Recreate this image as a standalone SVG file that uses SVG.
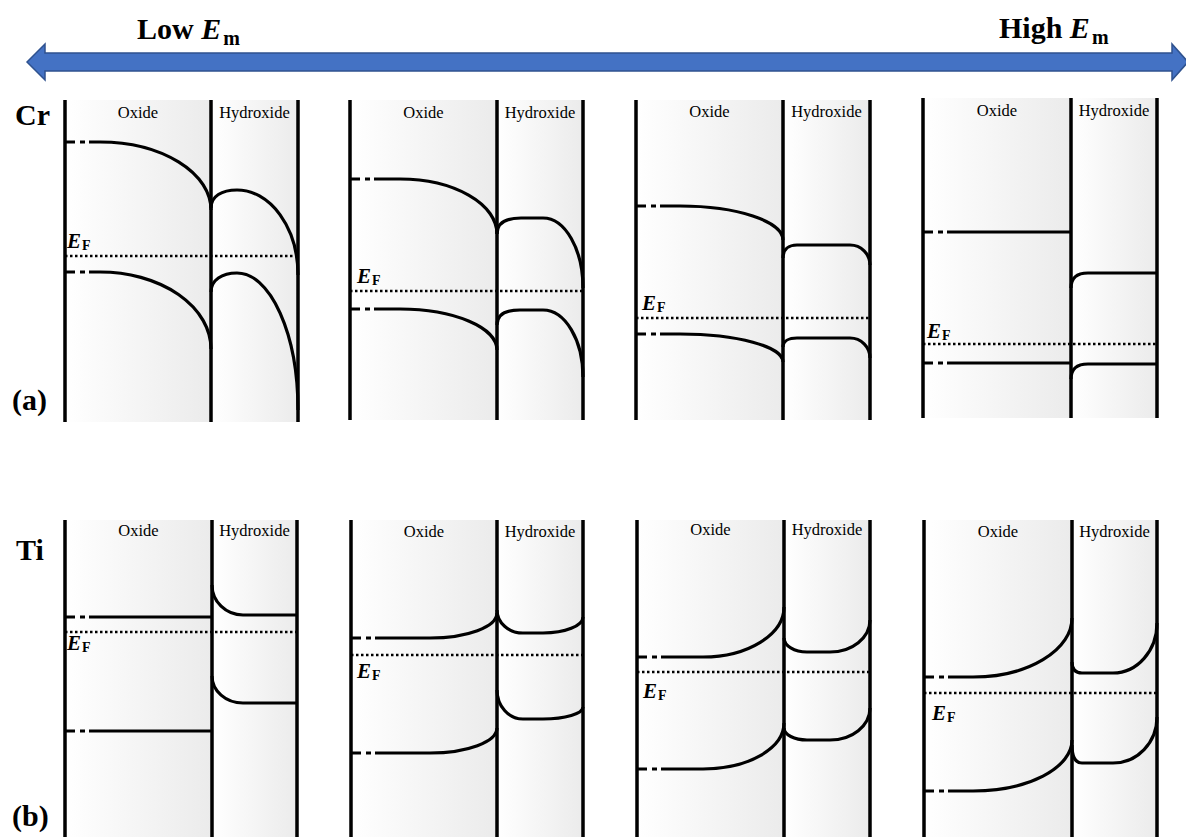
<svg xmlns="http://www.w3.org/2000/svg" width="1186" height="837" viewBox="0 0 1186 837">
<style>
.wall{stroke:#000;stroke-width:3.5;fill:none}
.band{stroke:#000;stroke-width:3.2;fill:none}
.bandd{stroke:#000;stroke-width:3.2;fill:none;stroke-dasharray:10 5 5 4 3000}
.ef{stroke:#000;stroke-width:2.5;fill:none;stroke-dasharray:2.5 2.5}
.lay{font-family:"Liberation Serif","Times New Roman",serif;font-size:16.5px;fill:#000;text-anchor:middle}
.big{font-family:"Liberation Serif","Times New Roman",serif;font-size:30px;font-weight:bold;fill:#000}
.efl{font-family:"Liberation Serif","Times New Roman",serif;font-size:21px;font-weight:bold;font-style:italic;fill:#000}
.sub{font-style:normal;font-size:14px}
</style>
<defs>
<linearGradient id="shade" x1="0" y1="0" x2="1" y2="0">
<stop offset="0" stop-color="#FFFFFF"/>
<stop offset="1" stop-color="#EBEBEB"/>
</linearGradient>
</defs>
<rect width="1186" height="837" fill="#FFFFFF"/>

<g id="connectors">
<polygon points="27,62 45,44 45,53 1172,53 1172,44 1188,62 1172,80 1172,71 45,71 45,80" fill="#4472C4" stroke="#2F528F" stroke-width="1.5"/>
</g>

<g id="labels">
<text class="big" x="137" y="39">Low <tspan font-style="italic">E</tspan><tspan font-size="20" dx="2" dy="6">m</tspan></text>
<text class="big" x="999" y="38">High <tspan font-style="italic">E</tspan><tspan font-size="20" dx="2" dy="6">m</tspan></text>
<text class="big" x="15" y="125" font-size="29">Cr</text>
<text class="big" x="12" y="410" font-size="29">(a)</text>
<text class="big" x="16" y="560" font-size="29">Ti</text>
<text class="big" x="12" y="826" font-size="29">(b)</text>
</g>

<!-- Cr row -->
<g id="cr1">
<rect x="65" y="100" width="146" height="322" fill="url(#shade)"/>
<rect x="211" y="100" width="87" height="322" fill="url(#shade)"/>
<text class="lay" x="138" y="118">Oxide</text>
<text class="lay" x="254.5" y="118">Hydroxide</text>
<path class="bandd" d="M65,142 H100 A111,68 0 0 1 211,210"/>
<path class="band" d="M211,208 C211,196 222,190 237,190 A61,85 0 0 1 298,275"/>
<path class="bandd" d="M65,272 H100 A111,77 0 0 1 211,349"/>
<path class="band" d="M211,292 C211,280 222,273 237,273 A61,137 0 0 1 298,410"/>
<path class="ef" d="M65,256 H298"/>
<text class="efl" x="67" y="248">E<tspan class="sub" dx="1" dy="2">F</tspan></text>
<path class="wall" d="M65,100 V422 M211,100 V422 M298,100 V422"/>
</g>

<g id="cr2">
<rect x="350" y="100" width="147" height="320" fill="url(#shade)"/>
<rect x="497" y="100" width="86" height="320" fill="url(#shade)"/>
<text class="lay" x="423.5" y="118">Oxide</text>
<text class="lay" x="540" y="118">Hydroxide</text>
<path class="bandd" d="M350,179 H400 A97,55 0 0 1 497,234"/>
<path class="band" d="M497,234 C497,222 507,218 521,218 H543 A40,70 0 0 1 583,288"/>
<path class="bandd" d="M350,309 H400 A97,41 0 0 1 497,350"/>
<path class="band" d="M497,325 C497,314 506,310 520,310 H543 A40,67 0 0 1 583,377"/>
<path class="ef" d="M350,291 H583"/>
<text class="efl" x="357" y="283">E<tspan class="sub" dx="1" dy="2">F</tspan></text>
<path class="wall" d="M350,100 V420 M497,100 V420 M583,100 V420"/>
</g>

<g id="cr3">
<rect x="636" y="100" width="147" height="320" fill="url(#shade)"/>
<rect x="783" y="100" width="87" height="320" fill="url(#shade)"/>
<text class="lay" x="709.5" y="117">Oxide</text>
<text class="lay" x="826.5" y="117">Hydroxide</text>
<path class="bandd" d="M636,206 H680 A103,34 0 0 1 783,240"/>
<path class="band" d="M783,258 C783,249 789,245 797,245 H850 A20,20 0 0 1 870,265"/>
<path class="bandd" d="M636,334 H680 A103,28 0 0 1 783,362"/>
<path class="band" d="M783,347 C783,341 789,338 797,338 H850 A20,20 0 0 1 870,358"/>
<path class="ef" d="M636,318 H870"/>
<text class="efl" x="642" y="310">E<tspan class="sub" dx="1" dy="2">F</tspan></text>
<path class="wall" d="M636,100 V420 M783,100 V420 M870,100 V420"/>
</g>

<g id="cr4">
<rect x="923" y="98" width="148" height="320" fill="url(#shade)"/>
<rect x="1071" y="98" width="86" height="320" fill="url(#shade)"/>
<text class="lay" x="997" y="116">Oxide</text>
<text class="lay" x="1114" y="116">Hydroxide</text>
<path class="bandd" d="M923,232 H1071"/>
<path class="band" d="M1071,288 Q1071,273 1088,273 H1157"/>
<path class="bandd" d="M923,363 H1071"/>
<path class="band" d="M1071,379 Q1071,364 1088,364 H1157"/>
<path class="ef" d="M923,344 H1157"/>
<text class="efl" x="927" y="338">E<tspan class="sub" dx="1" dy="2">F</tspan></text>
<path class="wall" d="M923,98 V418 M1071,98 V418 M1157,98 V418"/>
</g>

<!-- Ti row -->
<g id="ti1">
<rect x="65" y="520" width="147" height="317" fill="url(#shade)"/>
<rect x="212" y="520" width="85" height="317" fill="url(#shade)"/>
<text class="lay" x="138.5" y="536">Oxide</text>
<text class="lay" x="254.5" y="536">Hydroxide</text>
<path class="bandd" d="M65,617 H212"/>
<path class="band" d="M212,585 A31,30 0 0 0 243,615 H297"/>
<path class="bandd" d="M65,731 H212"/>
<path class="band" d="M212,676 A31,27 0 0 0 243,703 H297"/>
<path class="ef" d="M65,632 H297"/>
<text class="efl" x="67" y="650">E<tspan class="sub" dx="1" dy="2">F</tspan></text>
<path class="wall" d="M65,520 V837 M212,520 V837 M297,520 V837"/>
</g>

<g id="ti2">
<rect x="351" y="520" width="146" height="317" fill="url(#shade)"/>
<rect x="497" y="520" width="86" height="317" fill="url(#shade)"/>
<text class="lay" x="424" y="537">Oxide</text>
<text class="lay" x="540" y="537">Hydroxide</text>
<path class="bandd" d="M351,638 H430 A67,25 0 0 0 497,613"/>
<path class="band" d="M497,610 A26,23 0 0 0 523,633 H543 A40,16 0 0 0 583,617"/>
<path class="bandd" d="M351,753 H430 A67,25 0 0 0 497,728"/>
<path class="band" d="M497,690 A26,29 0 0 0 523,719 H543 A40,12 0 0 0 583,707"/>
<path class="ef" d="M351,655 H583"/>
<text class="efl" x="357" y="678">E<tspan class="sub" dx="1" dy="2">F</tspan></text>
<path class="wall" d="M351,520 V837 M497,520 V837 M583,520 V837"/>
</g>

<g id="ti3">
<rect x="637" y="520" width="147" height="317" fill="url(#shade)"/>
<rect x="784" y="520" width="86" height="317" fill="url(#shade)"/>
<text class="lay" x="710.5" y="535">Oxide</text>
<text class="lay" x="827" y="535">Hydroxide</text>
<path class="bandd" d="M637,657 H703 A81,50 0 0 0 784,607"/>
<path class="band" d="M784,638 A23,14 0 0 0 807,652 H830 A40,32 0 0 0 870,620"/>
<path class="bandd" d="M637,769 H703 A81,46 0 0 0 784,723"/>
<path class="band" d="M784,728 A23,12 0 0 0 807,740 H830 A40,32 0 0 0 870,708"/>
<path class="ef" d="M637,672 H870"/>
<text class="efl" x="643" y="698">E<tspan class="sub" dx="1" dy="2">F</tspan></text>
<path class="wall" d="M637,520 V837 M784,520 V837 M870,520 V837"/>
</g>

<g id="ti4">
<rect x="924" y="520" width="148" height="317" fill="url(#shade)"/>
<rect x="1072" y="520" width="85" height="317" fill="url(#shade)"/>
<text class="lay" x="998" y="537">Oxide</text>
<text class="lay" x="1114.5" y="537">Hydroxide</text>
<path class="bandd" d="M924,677 H973 A99,59 0 0 0 1072,618"/>
<path class="band" d="M1072,662 Q1072,673 1082,673 H1113 A44,50 0 0 0 1157,623"/>
<path class="bandd" d="M924,791 H973 A99,51 0 0 0 1072,740"/>
<path class="band" d="M1072,745 Q1072,763 1082,763 H1113 A44,46 0 0 0 1157,717"/>
<path class="ef" d="M924,693 H1157"/>
<text class="efl" x="932" y="720">E<tspan class="sub" dx="1" dy="2">F</tspan></text>
<path class="wall" d="M924,520 V837 M1072,520 V837 M1157,520 V837"/>
</g>
</svg>
